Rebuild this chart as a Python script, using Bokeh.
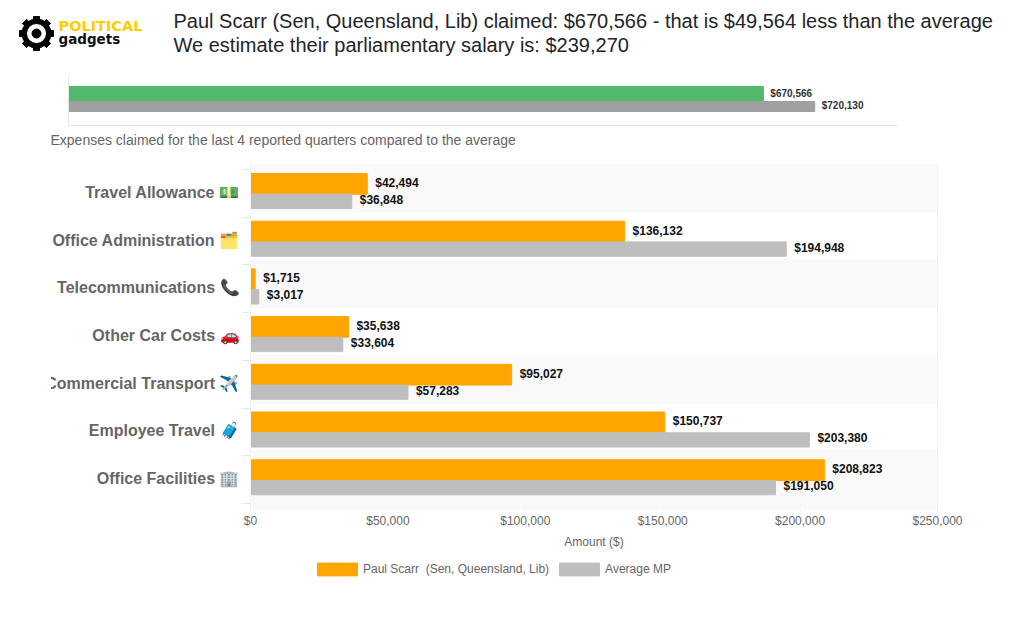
import numpy as np
from bokeh.core.properties import value
from bokeh.embed import file_html
from bokeh.resources import INLINE
from bokeh.plotting import figure
from bokeh.layouts import column
from bokeh.models import (ColumnDataSource, Range1d, FixedTicker, Label, LabelSet, Span,
                          Legend, LegendItem, NumeralTickFormatter)

FONT = "Liberation Sans"

legend_person = "Paul Scarr  (Sen, Queensland, Lib)"
legend_average = "Average MP"
title_line_1 = "Paul Scarr (Sen, Queensland, Lib) claimed: $670,566 - that is $49,564 less than the average"
title_line_2 = "We estimate their parliamentary salary is: $239,270"
subtitle = "Expenses claimed for the last 4 reported quarters compared to the average"
x_title = "Amount ($)"

total_person = 670566
total_average = 720130

categories = ["Travel Allowance 💵", "Office Administration 🗂️", "Telecommunications 📞",
              "Other Car Costs 🚗", "Commercial Transport ✈️", "Employee Travel 🧳",
              "Office Facilities 🏢"]
person_values = [42494, 136132, 1715, 35638, 95027, 150737, 208823]
average_values = [36848, 194948, 3017, 33604, 57283, 203380, 191050]
x_ticks = [0, 50000, 100000, 150000, 200000, 250000]

ORANGE = "#FFA500"
GREY = "#BEBEBE"
GREEN = "#52B86B"
DGREY = "#A0A0A0"
TXT = "#666666"

# ---------- header ----------
head = figure(width=1020, height=68, output_backend="svg", toolbar_location=None,
              x_range=Range1d(0, 1020), y_range=Range1d(68, 0), min_border=0, outline_line_color=None)
head.axis.visible = False
head.grid.visible = False
cx, cy = 36, 33
angles = np.arange(8) * np.pi / 4
head.rect(x=cx + 14 * np.cos(angles), y=cy + 14 * np.sin(angles), width=6, height=6,
          angle=-angles, color="black")
head.annulus(x=[cx], y=[cy], inner_radius=10, outer_radius=14.5, color="black")
head.circle(x=[cx], y=[cy], radius=4.5, color="black")
head.add_layout(Label(x=58, y=25, text="POLITICAL", text_font="DejaVu Sans", text_font_style="bold",
                      text_font_size="14.5px", text_color="#FFCC00", text_baseline="middle"))
head.add_layout(Label(x=58, y=38, text="gadgets", text_font="DejaVu Sans", text_font_style="bold",
                      text_font_size="13.5px", text_color="#111111", text_baseline="middle"))
head.add_layout(Label(x=173, y=20, text=title_line_1, text_font=FONT, text_font_size="20px",
                      text_color="#212529", text_baseline="middle"))
head.add_layout(Label(x=173, y=44, text=title_line_2, text_font=FONT, text_font_size="20px",
                      text_color="#212529", text_baseline="middle"))

# ---------- summary bar ----------
mini = figure(width=1020, height=60, output_backend="svg", toolbar_location=None,
              x_range=Range1d(0, 800000), y_range=Range1d(49, 0),
              frame_width=829, frame_height=49, min_border_left=68, min_border_right=123,
              min_border_top=8, min_border_bottom=3, outline_line_color=None)
mini.grid.visible = False
for ax in (mini.xaxis[0], mini.yaxis[0]):
    ax.ticker = FixedTicker(ticks=[])
    ax.major_tick_line_color = None
    ax.minor_tick_line_color = None
    ax.axis_line_color = "#E6E6E6"
mini.hbar(y=[17.5], height=15, left=0, right=[total_person], color=GREEN)
mini.hbar(y=[30], height=10, left=0, right=[total_average], color=DGREY)
mini_src = ColumnDataSource(dict(x=[total_person, total_average], y=[16.7, 29],
                                 t=[f"${total_person:,}", f"${total_average:,}"]))
mini.add_layout(LabelSet(x="x", y="y", text="t", source=mini_src, x_offset=7,
                         text_baseline=value("middle"), text_font=value(FONT),
                         text_font_style=value("bold"), text_font_size=value("10px"),
                         text_color=value("#333333")))

# ---------- subtitle strip ----------
sub = figure(width=1020, height=30, output_backend="svg", toolbar_location=None,
             x_range=Range1d(0, 1020), y_range=Range1d(30, 0), min_border=0, outline_line_color=None)
sub.axis.visible = False
sub.grid.visible = False
sub.add_layout(Label(x=50, y=11, text=subtitle, text_font=FONT, text_font_size="14px",
                     text_color=TXT, text_baseline="middle"))

# ---------- main chart ----------
n = len(categories)
pad_top, pad_bottom = 0.105, 0.126
main = figure(width=984, height=395, output_backend="svg", toolbar_location=None,
              x_range=Range1d(0, x_ticks[-1]), y_range=Range1d(n + pad_bottom, -pad_top),
              frame_width=687, frame_height=345, min_border_left=215, min_border_right=82,
              min_border_top=6, min_border_bottom=44, outline_line_color=None,
              margin=(0, 0, 0, 35), styles={"clip-path": "inset(0 0 0 16px)"})
main.grid.visible = False

idx = np.arange(n)
stripe_idx = idx[::2]
stripe_bottom = stripe_idx + 1 - pad_top
stripe_bottom[-1] = n + pad_bottom
main.quad(left=0, right=x_ticks[-1], top=stripe_idx - pad_top, bottom=stripe_bottom, color="#F9F9F9")
main.add_layout(Span(location=x_ticks[-1], dimension="height", line_color="#E8E8E8", line_width=1))

src = ColumnDataSource(dict(y_p=idx + 0.30, y_a=idx + 0.667, p=person_values, a=average_values,
                            tp=[f"${v:,}" for v in person_values],
                            ta=[f"${v:,}" for v in average_values]))
main.hbar(y="y_p", height=0.434, left=0, right="p", color=ORANGE, source=src)
main.hbar(y="y_a", height=0.30, left=0, right="a", color=GREY, source=src)
for xf, yf, tf, dy in (("p", "y_p", "tp", 1), ("a", "y_a", "ta", 1.5)):
    main.add_layout(LabelSet(x=xf, y=yf, text=tf, source=src, x_offset=8, y_offset=dy,
                             text_baseline=value("middle"), text_font=value(FONT),
                             text_font_style=value("bold"), text_font_size=value("12px"),
                             text_color=value("#111111")))

xa = main.xaxis[0]
xa.ticker = FixedTicker(ticks=x_ticks)
xa.formatter = NumeralTickFormatter(format="$0,0")
xa.axis_line_color = None
xa.major_tick_line_color = "#EEEEEE"
xa.major_tick_out = 3
xa.major_tick_in = 0
xa.minor_tick_line_color = None
xa.major_label_text_font = FONT
xa.major_label_text_font_size = "12px"
xa.major_label_text_color = TXT
xa.major_label_standoff = 1
xa.axis_label = x_title
xa.axis_label_text_font = FONT
xa.axis_label_text_font_size = "12px"
xa.axis_label_text_font_style = "normal"
xa.axis_label_text_color = TXT
xa.axis_label_standoff = 4

ya = main.yaxis[0]
label_pos = idx + 0.48
ya.ticker = FixedTicker(ticks=list(label_pos), minor_ticks=list(np.arange(n + 1)))
ya.major_label_overrides = {float(p): c for p, c in zip(label_pos, categories)}
ya.major_tick_in = 0
ya.major_tick_out = 0
ya.minor_tick_in = 0
ya.minor_tick_out = 8
ya.minor_tick_line_color = "#E6E6E6"
ya.axis_line_color = "#F2F2F2"
ya.major_label_text_font = FONT
ya.major_label_text_font_style = "bold"
ya.major_label_text_font_size = "16px"
ya.major_label_text_color = TXT
ya.major_label_standoff = 3

# ---------- legend strip ----------
leg = figure(width=1020, height=50, output_backend="svg", toolbar_location=None,
             x_range=Range1d(0, 1020), y_range=Range1d(0, 50), min_border=0, outline_line_color=None)
leg.axis.visible = False
leg.grid.visible = False
off_range = np.full(n, -100)
lp = leg.hbar(y=off_range, height=1, left=0, right=person_values, color=ORANGE)
la = leg.hbar(y=off_range, height=1, left=0, right=average_values, color=GREY)
legend = Legend(items=[LegendItem(label=legend_person, renderers=[lp]),
                       LegendItem(label=legend_average, renderers=[la])],
                orientation="horizontal", location=(312, 26), glyph_width=50, glyph_height=16,
                label_standoff=1, spacing=5, padding=0, margin=0, border_line_color=None,
                background_fill_alpha=0, label_text_font=FONT, label_text_font_size="12px",
                label_text_color=TXT)
leg.add_layout(legend, "center")

page = column(column(head), column(mini), column(sub), column(main), column(leg), spacing=0)
open("out.html", "w").write(file_html(page, INLINE))
